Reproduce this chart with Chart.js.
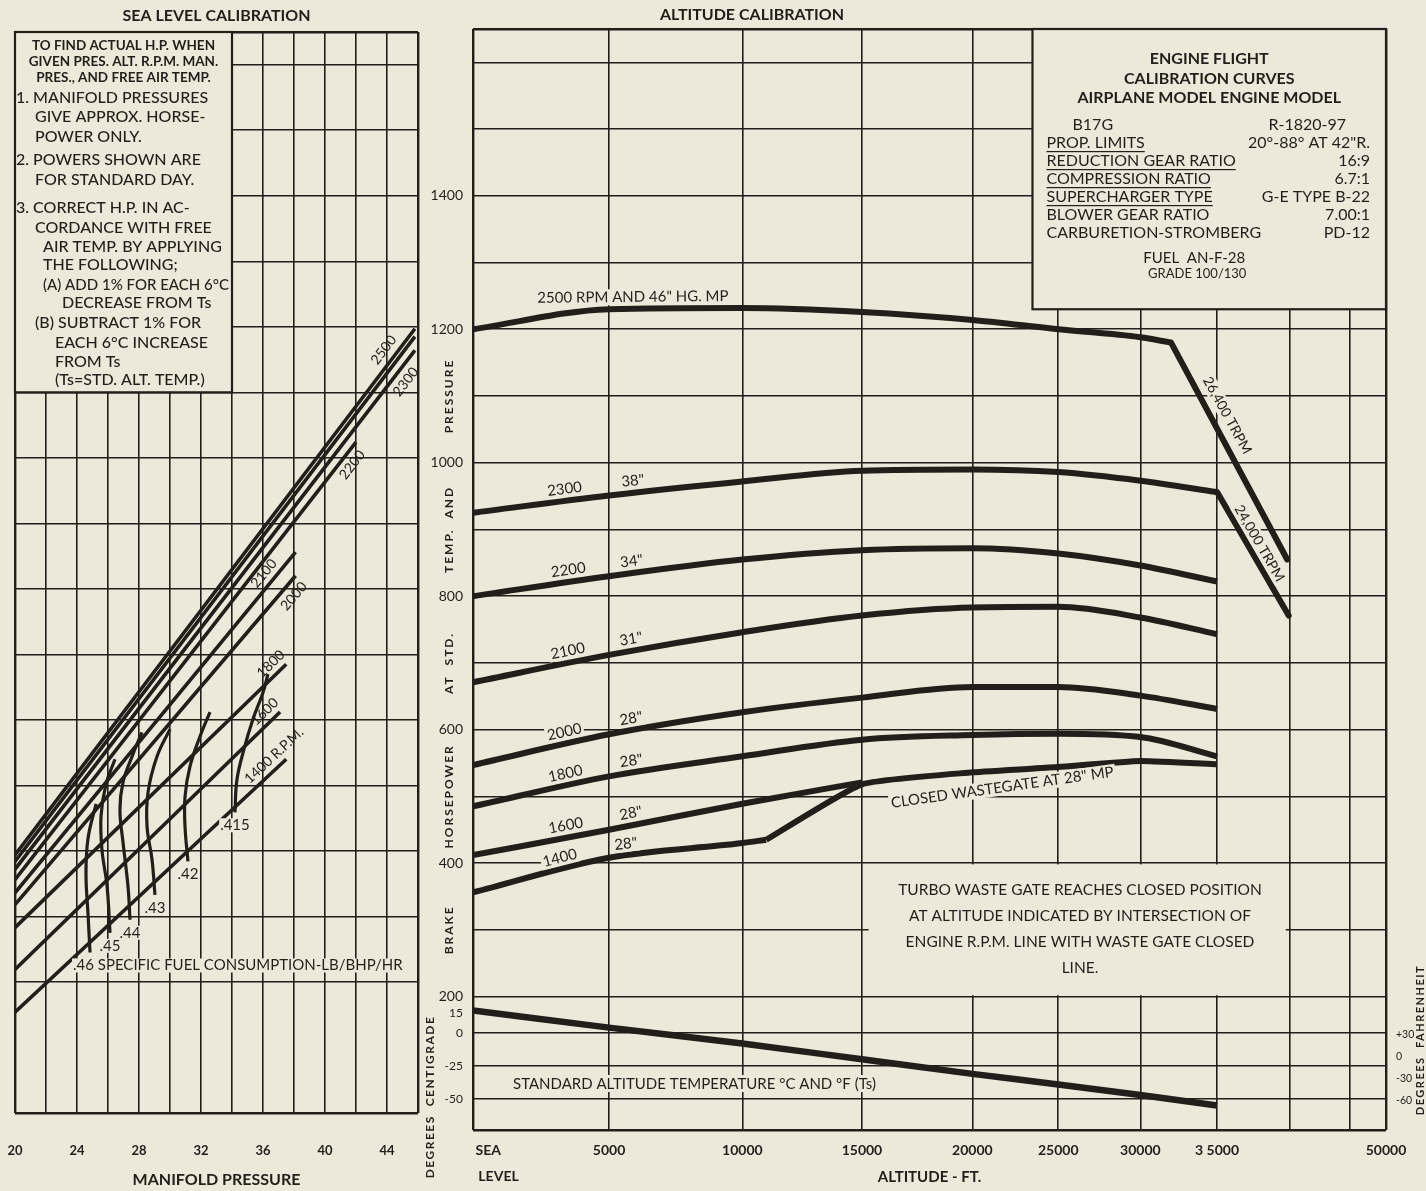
<!DOCTYPE html>
<html>
<head>
<meta charset="utf-8">
<title>Engine Flight Calibration Curves</title>
<script src="https://cdn.jsdelivr.net/npm/chart.js@4.4.1/dist/chart.umd.min.js"></script>
<style>
  html, body { margin:0; padding:0; background:#ece9da; }
  body { width:1426px; height:1191px; position:relative; overflow:hidden; }
  canvas { position:absolute; top:0; }
  #seaLevel { left:0; }
  #altitude { left:420px; }
</style>
</head>
<body>
<canvas id="seaLevel" width="440" height="1191" style="width:440px;height:1191px"></canvas>
<canvas id="altitude" width="1006" height="1191" style="width:1006px;height:1191px"></canvas>
<script>
// ================= DATA : SEA LEVEL CALIBRATION =================
const mpGrid     = [20,22,24,26,28,30,32,34,36,38,40,42,44,46];
const mpLabels   = [20,24,28,32,36,40,44];
const seaHpGrid  = [0,200,300,400,500,600,700,800,900,1000,1100,1200,1300,1400,1500,1600,1650];

const rpmNames   = ['2500','','2300','2200','2100','2000','1800','1600','1400 R.P.M.'];
const rpmStartMP = [20,20,20,20,20,20,20,20,20];
const rpmStartHP = [394,384,372,356,336,318,283,219,154];
const rpmEndMP   = [45.8,45.8,45.8,42.0,38.1,38.1,37.5,37.1,37.5];
const rpmEndHP   = [1197,1185,1164,1024,856,820,685,612,540];

const sfcNames = ['.46','.45','.44','.43','.42','.415'];
const sfc46MP  = [24.84,24.71,24.58,24.71,25.23];
const sfc46HP  = [245,304,365,419,472];
const sfc45MP  = [26.13,25.94,25.61,25.55,25.87,26.45];
const sfc45HP  = [275,346,402,453,502,540];
const sfc44MP  = [27.42,27.29,26.97,26.77,26.97,27.55,28.19];
const sfc44HP  = [295,346,413,463,505,544,581];
const sfc43MP  = [29.03,28.84,28.52,28.58,29.16,30.0];
const sfc43HP  = [333,387,437,489,544,586];
const sfc42MP  = [31.16,30.97,30.97,31.29,31.94,32.58];
const sfc42HP  = [384,437,483,529,575,612];
const sfc415MP = [34.19,34.32,34.77,35.35,36.0,36.32];
const sfc415HP = [459,509,555,601,642,670];

// ================= DATA : ALTITUDE CALIBRATION =================
const altitudes = [0,5000,10000,15000,20000,25000,30000,35000];
const hp2300 = [925,951,972,988,990,986,973,956];
const hp2200 = [800,830,855,869,872,864,846,822];
const hp2100 = [671,712,746,771,783,784,768,743];
const hp2000 = [547,593,626,648,664,664,651,631];
const hp1800 = [485,530,560,585,592,594,589,560];
const alt2500 = [0,5000,10000,15000,20000,25000,30000,32000];
const hp2500  = [1200,1230,1232,1226,1214,1200,1188,1180];
const alt1600 = [0,5000,10000,15000];
const hp1600  = [412,450,489,521];
const alt1400 = [0,5000,10000,11000];
const hp1400  = [356,408,430,435];
const altWastegate = [11000,15000,20000,25000,30000,35000];
const hpWastegate  = [435,518,536,544,553,548];
const alt26400 = [32000,39800];
const hp26400  = [1180,855];
const alt24000 = [35000,39900];
const hp24000  = [956,771];
const stdTempC = [17,4,-8,-20,-31,-39,-47,-55];

// tick labels
const altTickValues = [0,5000,10000,15000,20000,25000,30000,35000,40000,45000,50000];
const altTickLabels = [['         SEA','               LEVEL'],'5000','10000','15000','20000','25000','30000','3 5000','','','50000'];
const hpGridValues  = [0,200,300,400,500,600,700,800,900,1000,1100,1200,1300,1400,1500,1600,1650];
const hpLabelValues = [200,400,600,800,1000,1200,1400];
const tempCTicks  = [15,0,-25,-50];
const tempCLabels = ['15','0','-25','-50'];
const tempFTicks  = [30,0,-30,-60];
const tempFLabels = ['+30','0','-30','-60'];

// texts
const noteHead = ['TO FIND ACTUAL H.P. WHEN','GIVEN PRES. ALT. R.P.M. MAN.','PRES., AND FREE AIR TEMP.'];
const noteBody = ['1. MANIFOLD PRESSURES','GIVE APPROX. HORSE-','POWER ONLY.','2. POWERS SHOWN ARE','FOR STANDARD DAY.',
  '3. CORRECT H.P. IN AC-','CORDANCE WITH FREE','AIR TEMP. BY APPLYING','THE FOLLOWING;','(A) ADD 1% FOR EACH 6°C',
  'DECREASE FROM Ts','(B) SUBTRACT 1% FOR','EACH 6°C INCREASE','FROM Ts','(Ts=STD. ALT. TEMP.)'];
const infoHead  = ['ENGINE FLIGHT','CALIBRATION CURVES','AIRPLANE MODEL ENGINE MODEL'];
const infoLeft  = ['B17G','PROP. LIMITS','REDUCTION GEAR RATIO','COMPRESSION RATIO','SUPERCHARGER TYPE','BLOWER GEAR RATIO','CARBURETION-STROMBERG'];
const infoRight = ['R-1820-97','20°-88° AT 42"R.','16:9','6.7:1','G-E TYPE B-22','7.00:1','PD-12'];
const infoFuel  = ['FUEL  AN-F-28','GRADE 100/130'];
const turboNote = ['TURBO WASTE GATE REACHES CLOSED POSITION','AT ALTITUDE INDICATED BY INTERSECTION OF','ENGINE R.P.M. LINE WITH WASTE GATE CLOSED','LINE.'];

// ================= STYLE =================
const INK = '#221f1b';
const BG  = '#ece9da';
const FONT = 'Lato, "Open Sans", "DejaVu Sans", sans-serif';
Chart.defaults.font.family = FONT;
Chart.defaults.color = INK;

function interp(xs, ys, v) {
  const n = xs.length;
  let i = 0;
  if (xs[n-1] >= xs[0]) { while (i < n-2 && v > xs[i+1]) i++; }
  else { while (i < n-2 && v < xs[i+1]) i++; }
  const t = (v - xs[i]) / (xs[i+1] - xs[i]);
  return ys[i] + t * (ys[i+1] - ys[i]);
}

// Non-linear altitude axis (gridlines as printed on the chart)
const altScaleAlt  = [0,5000,10000,15000,20000,25000,30000,35000,40000,45000,50000];
const altScaleFrac = [0,0.149,0.295,0.426,0.547,0.641,0.731,0.815,0.895,0.960,1];
class AltitudeScale extends Chart.LinearScale {
  getPixelForValue(v) {
    if (v === null || v === undefined || isNaN(v)) return NaN;
    return this.getPixelForDecimal(interp(altScaleAlt, altScaleFrac, v));
  }
  getValueForPixel(p) { return interp(altScaleFrac, altScaleAlt, this.getDecimalForPixel(p)); }
}
AltitudeScale.id = 'altitude';
AltitudeScale.defaults = {};
Chart.register(AltitudeScale);

function xy(xs, ys) { return xs.map((x, i) => ({x, y: ys[i]})); }

function lineLabel(ctx, sx, sy, xs, ys, v, text, off, o) {
  o = o || {};
  const span = Math.abs(xs[xs.length-1] - xs[0]) * 0.02;
  const p = a => [sx.getPixelForValue(a), sy.getPixelForValue(interp(xs, ys, a))];
  const [x0, y0] = p(v), [xa, ya] = p(v - span), [xb, yb] = p(v + span);
  const ang = o.angle !== undefined ? o.angle * Math.PI / 180 : Math.atan2(yb - ya, xb - xa);
  ctx.save();
  ctx.translate(x0, y0); ctx.rotate(ang);
  ctx.font = o.font; ctx.textAlign = 'center'; ctx.textBaseline = 'middle';
  if (o.bg) {
    const w = ctx.measureText(text).width;
    ctx.fillStyle = BG; ctx.fillRect(-w/2 - 2, off - 8, w + 4, 16);
  }
  ctx.fillStyle = INK; ctx.fillText(text, 0, off);
  ctx.restore();
}
function vText(ctx, text, x, y, font, spacing) {
  ctx.save();
  ctx.translate(x, y); ctx.rotate(-Math.PI/2);
  ctx.font = font; ctx.letterSpacing = spacing || '0px';
  ctx.textAlign = 'center'; ctx.textBaseline = 'middle'; ctx.fillStyle = INK;
  ctx.fillText(text, 0, 0);
  ctx.restore();
}
const frameW = (lo, hi) => c => (c.tick && (c.tick.value === lo || c.tick.value === hi)) ? 2.4 : 1.6;

// ================= LEFT CHART =================
const seaDatasets = [];
rpmNames.forEach((n, i) => seaDatasets.push({
  label: 'RPM ' + n, data: xy([rpmStartMP[i], rpmEndMP[i]], [rpmStartHP[i], rpmEndHP[i]]),
  borderColor: INK, borderWidth: 3.6, pointRadius: 0, tension: 0, borderCapStyle: 'butt'
}));
const sfcMP = [sfc46MP, sfc45MP, sfc44MP, sfc43MP, sfc42MP, sfc415MP];
const sfcHP = [sfc46HP, sfc45HP, sfc44HP, sfc43HP, sfc42HP, sfc415HP];
sfcNames.forEach((n, i) => seaDatasets.push({
  label: 'SFC ' + n, data: xy(sfcMP[i], sfcHP[i]),
  borderColor: INK, borderWidth: 3.2, pointRadius: 0, tension: 0.4
}));

const rpmLabelSpots = [[44.4,-12],null,[44.6,12],[41.2,11],[36.6,-11],[37.4,12],[37.0,-11],[36.6,-11],[37.2,-11]];
const noteY = [98,117,137,160,180,208,228,247,265,285,303,323,343,362,380];
const noteX = [16,35,35,16,35,16,35,43,43,43,62,35,55,55,55];

const seaDecor = {
  id: 'seaDecor',
  afterDraw(chart) {
    const { ctx, chartArea: ca } = chart;
    const sx = chart.scales.x, sy = chart.scales.y;
    ctx.save();
    ctx.fillStyle = INK; ctx.textAlign = 'center'; ctx.textBaseline = 'middle';
    ctx.font = `bold 16px ${FONT}`;
    ctx.fillText('SEA LEVEL CALIBRATION', (ca.left + ca.right) / 2, 16);
    ctx.fillText('MANIFOLD PRESSURE', (ca.left + ca.right) / 2, 1180);

    // instruction box
    const bx0 = sx.getPixelForValue(20), bx1 = sx.getPixelForValue(34);
    const by0 = sy.getPixelForValue(1650), by1 = sy.getPixelForValue(1100);
    ctx.fillStyle = BG; ctx.fillRect(bx0, by0, bx1 - bx0, by1 - by0);
    ctx.strokeStyle = INK; ctx.lineWidth = 2.2; ctx.strokeRect(bx0, by0, bx1 - bx0, by1 - by0);
    ctx.fillStyle = INK;
    ctx.font = `bold 13.5px ${FONT}`;
    noteHead.forEach((t, i) => ctx.fillText(t, (bx0 + bx1) / 2, by0 + 14 + i * 16, bx1 - bx0 - 6));
    ctx.textAlign = 'left';
    ctx.font = `500 16px ${FONT}`;
    noteBody.forEach((t, i) => ctx.fillText(t, noteX[i], noteY[i], bx1 - noteX[i] - 3));

    // RPM labels
    rpmNames.forEach((n, i) => {
      const s = rpmLabelSpots[i];
      if (!s || !n) return;
      lineLabel(ctx, sx, sy, [rpmStartMP[i], rpmEndMP[i]], [rpmStartHP[i], rpmEndHP[i]], s[0], n, s[1], { font: `14px ${FONT}` });
    });

    // SFC labels at the lower end of each curve
    ctx.font = `15px ${FONT}`;
    ctx.textBaseline = 'middle';
    sfcNames.forEach((n, i) => {
      const px = sx.getPixelForValue(sfcMP[i][0]), py = sy.getPixelForValue(sfcHP[i][0]);
      const text = i === 0 ? '.46 SPECIFIC FUEL CONSUMPTION-LB/BHP/HR' : n;
      ctx.textAlign = i === 0 ? 'left' : 'center';
      const tx = i === 0 ? px - 17 : px, ty = py + 13;
      const w = ctx.measureText(text).width;
      ctx.fillStyle = BG;
      ctx.fillRect(i === 0 ? tx - 1 : tx - w/2 - 1, ty - 7, w + 2, 14);
      ctx.fillStyle = INK;
      ctx.fillText(text, tx, ty);
    });
    ctx.restore();
  }
};

new Chart(document.getElementById('seaLevel'), {
  type: 'line',
  data: { datasets: seaDatasets },
  options: {
    responsive: false, animation: false, events: [],
    layout: { padding: { left: 15, right: 22, top: 32, bottom: 0 } },
    plugins: { legend: { display: false }, tooltip: { enabled: false } },
    scales: {
      x: {
        type: 'linear', min: 20, max: 46,
        afterBuildTicks: s => { s.ticks = mpGrid.map(v => ({ value: v })); },
        afterFit: s => { s.height = 78; s.paddingLeft = 0; s.paddingRight = 0; },
        grid: { color: INK, lineWidth: frameW(20, 46), drawTicks: false },
        border: { display: false },
        ticks: { autoSkip: false, maxRotation: 0, padding: 30, color: INK,
                 font: { size: 13, weight: 'bold' },
                 callback: v => mpLabels.includes(v) ? String(v) : '' }
      },
      y: {
        type: 'linear', min: 0, max: 1650,
        afterBuildTicks: s => { s.ticks = seaHpGrid.map(v => ({ value: v })); },
        afterFit: s => { s.width = 0; s.paddingTop = 0; s.paddingBottom = 0; },
        grid: { color: INK, lineWidth: frameW(0, 1650), drawTicks: false },
        border: { display: false },
        ticks: { display: false }
      }
    }
  },
  plugins: [seaDecor]
});

// ================= RIGHT CHART =================
const OX = 420;
const cPerHp = 1.98, cZeroHp = 145.5;           // temperature axis registration on the HP axis
const cMin = (0 - cZeroHp) / cPerHp, cMax = (1650 - cZeroHp) / cPerHp;
const nHp = hpGridValues.length;
// HP-axis ticks: the HP gridlines followed by the temperature ticks (placed through the same registration)
const leftAxisTicks = hpGridValues.concat(tempCTicks.map(t => cZeroHp + cPerHp * t));

const curve = (label, xs, ys, extra) => Object.assign({
  label, data: xy(xs, ys), borderColor: INK, borderWidth: 6, pointRadius: 0,
  cubicInterpolationMode: 'monotone', borderCapStyle: 'butt', yAxisID: 'y'
}, extra || {});

const altDatasets = [
  curve('2500 RPM 46"', alt2500, hp2500),
  curve('2300 RPM 38"', altitudes, hp2300),
  curve('2200 RPM 34"', altitudes, hp2200),
  curve('2100 RPM 31"', altitudes, hp2100),
  curve('2000 RPM 28"', altitudes, hp2000),
  curve('1800 RPM 28"', altitudes, hp1800),
  curve('1600 RPM 28"', alt1600, hp1600),
  curve('1400 RPM 28"', alt1400, hp1400),
  curve('Closed wastegate', altWastegate, hpWastegate, { cubicInterpolationMode: 'default', tension: 0.15 }),
  curve('26,400 TRPM', alt26400, hp26400, { borderCapStyle: 'round' }),
  curve('24,000 TRPM', alt24000, hp24000, { borderCapStyle: 'round' }),
  curve('Std temp', altitudes, stdTempC, { yAxisID: 'yC', borderWidth: 6.5 })
];

const series = {
  '2500': [alt2500, hp2500], '2300': [altitudes, hp2300], '2200': [altitudes, hp2200],
  '2100': [altitudes, hp2100], '2000': [altitudes, hp2000], '1800': [altitudes, hp1800],
  '1600': [alt1600, hp1600], '1400': [alt1400, hp1400], 'wg': [altWastegate, hpWastegate],
  '26400': [alt26400, hp26400], '24000': [alt24000, hp24000]
};
const curveLabels = [
  ['2500', 5900, '2500 RPM AND 46" HG. MP', -12, { font: `15px ${FONT}`, bg: true }],
  ['2300', 3420, '2300', -12], ['2300', 5940, '38"', -12],
  ['2200', 3570, '2200', -12], ['2200', 5900, '34"', -12],
  ['2100', 3570, '2100', -12], ['2100', 5900, '31"', -12],
  ['2000', 3460, '2000', -12], ['2000', 5900, '28"', -12],
  ['1800', 3490, '1800', -12], ['1800', 5900, '28"', -12],
  ['1600', 3490, '1600', -12], ['1600', 5900, '28"', -12],
  ['1400', 3300, '1400', -12], ['1400', 5680, '28"', -12],
  ['wg', 21600, 'CLOSED WASTEGATE AT 28" MP', 17, { angle: -8, font: `15px ${FONT}` }],
  ['26400', 34860, '26,400 TRPM', -14, { font: `14px ${FONT}` }],
  ['24000', 37250, '24,000 TRPM', -11, { font: `14px ${FONT}` }]
];
const hpTitleWords = [['PRESSURE', 1100], ['TEMP.  AND', 900], ['AT  STD.', 700], ['HORSEPOWER', 500], ['BRAKE', 300]];

const altDecor = {
  id: 'altDecor',
  afterDraw(chart) {
    const { ctx, chartArea: ca } = chart;
    const sx = chart.scales.x, sy = chart.scales.y;
    ctx.save();
    ctx.fillStyle = INK; ctx.textAlign = 'center'; ctx.textBaseline = 'middle';
    ctx.font = `bold 16px ${FONT}`;
    ctx.fillText('ALTITUDE CALIBRATION', 752 - OX, 15);
    ctx.font = `bold 15px ${FONT}`;
    ctx.fillText('ALTITUDE - FT.', (ca.left + ca.right) / 2, 1177);

    // engine data box
    const ix0 = sx.getPixelForValue(23500), ix1 = ca.right;
    const iy0 = ca.top, iy1 = sy.getPixelForValue(1230);
    ctx.fillStyle = BG; ctx.fillRect(ix0, iy0, ix1 - ix0, iy1 - iy0);
    ctx.strokeStyle = INK; ctx.lineWidth = 2.2; ctx.strokeRect(ix0, iy0, ix1 - ix0, iy1 - iy0);
    ctx.fillStyle = INK;
    const icx = (ix0 + ix1) / 2;
    ctx.font = `bold 16px ${FONT}`;
    infoHead.forEach((t, i) => ctx.fillText(t, icx, iy0 + 30 + i * 19.5));
    ctx.font = `16px ${FONT}`;
    infoLeft.forEach((t, i) => {
      const ly = iy0 + 96 + i * 18;
      const lx = i === 0 ? ix0 + 40 : ix0 + 14;
      ctx.textAlign = 'left'; ctx.fillText(t, lx, ly);
      if (i >= 1 && i <= 4) {
        const w = ctx.measureText(t).width;
        ctx.fillRect(lx, ly + 8, w, 1.2);
      }
      ctx.textAlign = 'right'; ctx.fillText(infoRight[i], i === 0 ? ix1 - 40 : ix1 - 16, ly);
    });
    ctx.textAlign = 'center';
    ctx.font = `15px ${FONT}`;
    ctx.fillText(infoFuel[0], icx - 15, iy0 + 229);
    ctx.font = `13px ${FONT}`;
    ctx.fillText(infoFuel[1], icx - 12, iy0 + 245);

    // turbo note box
    const tx0 = sx.getPixelForValue(15300), tx1 = sx.getPixelForValue(39700);
    const ty0 = sy.getPixelForValue(398), ty1 = sy.getPixelForValue(202);
    ctx.fillStyle = BG; ctx.fillRect(tx0, ty0, tx1 - tx0, ty1 - ty0);
    ctx.fillStyle = INK; ctx.font = `15.5px ${FONT}`;
    turboNote.forEach((t, i) => ctx.fillText(t, 1080 - OX, 890 + i * 26, tx1 - tx0 - 10));

    // standard temperature text
    ctx.font = `15px ${FONT}`;
    const st = 'STANDARD ALTITUDE TEMPERATURE °C AND °F (Ts)';
    const sw = ctx.measureText(st).width;
    ctx.fillStyle = BG; ctx.fillRect(513 - OX - 3, 1075, sw + 6, 17);
    ctx.fillStyle = INK; ctx.textAlign = 'left';
    ctx.fillText(st, 513 - OX, 1084);

    // curve labels
    curveLabels.forEach(([k, v, text, off, o]) => {
      const [xs, ys] = series[k];
      lineLabel(ctx, sx, sy, xs, ys, v, text, off, Object.assign({ font: `15px ${FONT}`, bg: true }, o || {}));
    });

    // rotated axis titles
    hpTitleWords.forEach(([w, hp]) => vText(ctx, w, 449 - OX, sy.getPixelForValue(hp), `bold 12px ${FONT}`, '2px'));
    vText(ctx, 'DEGREES  CENTIGRADE', 430 - OX, 1097, `bold 12px ${FONT}`, '1.5px');
    vText(ctx, 'DEGREES  FAHRENHEIT', 1420 - OX, 1040, `bold 11px ${FONT}`, '1.5px');
    ctx.restore();
  }
};

new Chart(document.getElementById('altitude'), {
  type: 'line',
  data: { datasets: altDatasets },
  options: {
    responsive: false, animation: false, events: [],
    layout: { padding: { left: 0, right: 0, top: 29, bottom: 0 } },
    plugins: { legend: { display: false }, tooltip: { enabled: false } },
    scales: {
      x: {
        type: 'altitude', min: 0, max: 50000,
        afterBuildTicks: s => { s.ticks = altTickValues.map(v => ({ value: v })); },
        afterFit: s => { s.height = 61; s.paddingLeft = 0; s.paddingRight = 0; },
        grid: { color: INK, lineWidth: frameW(0, 50000), drawTicks: false },
        border: { display: false },
        ticks: { autoSkip: false, maxRotation: 0, padding: 8, color: INK,
                 font: { size: 14, weight: 'bold', lineHeight: 1.85 },
                 callback: (v, i) => altTickLabels[i] }
      },
      y: {
        type: 'linear', position: 'left', min: 0, max: 1650,
        afterBuildTicks: s => { s.ticks = leftAxisTicks.map(v => ({ value: v })); },
        afterFit: s => { s.width = 53; s.paddingTop = 0; s.paddingBottom = 0; },
        grid: {
          color: c => (c.index >= nHp && tempCTicks[c.index - nHp] === 15) ? 'rgba(0,0,0,0)' : INK,
          lineWidth: frameW(0, 1650), drawTicks: false
        },
        border: { display: false },
        ticks: { autoSkip: false, padding: 10, color: INK,
                 font: c => ({ size: c.index >= nHp ? 12 : 14 }),
                 callback: (v, i) => i >= nHp ? tempCLabels[i - nHp] : (hpLabelValues.includes(v) ? String(v) : '') }
      },
      yC: {
        type: 'linear', position: 'left', display: false, min: cMin, max: cMax
      },
      yF: {
        type: 'linear', position: 'right', min: cMin * 1.8 + 32, max: cMax * 1.8 + 32,
        afterBuildTicks: s => { s.ticks = tempFTicks.map(v => ({ value: v })); },
        afterFit: s => { s.width = 40; s.paddingTop = 0; s.paddingBottom = 0; },
        grid: { display: false },
        border: { display: false },
        ticks: { autoSkip: false, padding: 2, color: INK, font: { size: 10.5 },
                 callback: (v, i) => tempFLabels[i] }
      }
    }
  },
  plugins: [altDecor]
});
</script>
</body>
</html>
